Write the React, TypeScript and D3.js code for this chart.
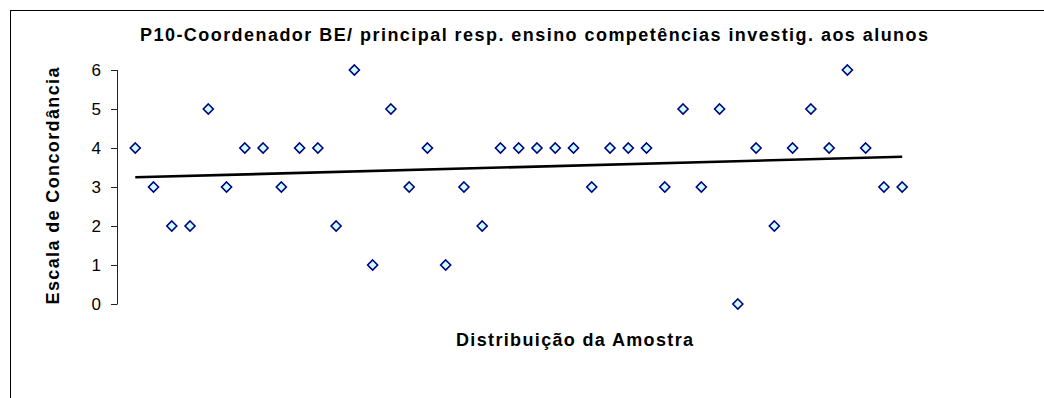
import React from 'react';
import * as d3 from 'd3';

// Respostas P10, pela ordem da amostra (1..43)
const sampleIds: number[] = d3.range(1, 44);
const responses: number[] = [
    4, 3, 2, 2, 5, 3, 4, 4, 3, 4,
    4, 2, 6, 1, 5, 3, 4, 1, 3, 2,
    4, 4, 4, 4, 4, 3, 4, 4, 4, 3,
    5, 3, 5, 0, 4, 2, 4, 5, 4, 6,
    4, 3, 3
];
const yTicks: number[] = [0, 1, 2, 3, 4, 5, 6];
const xDomain: number[] = [0, 50];

const titleText = 'P10-Coordenador BE/ principal resp. ensino competências investig. aos alunos';
const yLabel = 'Escala de Concordância';
const xLabel = 'Distribuição da Amostra';

const width = 1044;
const height = 398;
const font = '"Liberation Sans", Arial, sans-serif';

// least squares, same as Excel linear trendline
const linearFit = (xs: number[], ys: number[]) => {
    const mx = d3.mean(xs) as number;
    const my = d3.mean(ys) as number;
    const num = d3.sum(xs, (x, i) => (x - mx) * (ys[i] - my));
    const den = d3.sum(xs, x => (x - mx) * (x - mx));
    const slope = num / den;
    return { slope, intercept: my - slope * mx };
};

const App = () => {
    const x = d3.scaleLinear().domain(xDomain).range([117, 1030]);
    const y = d3.scaleLinear().domain([0, 6]).range([304, 70]);

    const fit = linearFit(sampleIds, responses);
    const xEnds = [sampleIds[0], sampleIds[sampleIds.length - 1]];
    const trend = d3.line<number>()
        .x(d => x(d))
        .y(d => y(fit.intercept + fit.slope * d))(xEnds) as string;

    const diamond = (cx: number, cy: number, r = 5) =>
        `M${cx},${cy - r}L${cx + r},${cy}L${cx},${cy + r}L${cx - r},${cy}Z`;

    return (
        <svg width={width} height={height} style={{ position: 'absolute', left: 0, top: 0, background: '#fff' }}
            fontFamily={font}>
            <rect x={10.5} y={10.5} width={1060} height={420} fill="#fff" stroke="#000" strokeWidth={1} />

            <text x={534} y={41} textAnchor="middle" fontSize={18} fontWeight="bold"
                textLength={788} lengthAdjust="spacing">{titleText}</text>

            {/* eixo Y */}
            <line x1={117.5} x2={117.5} y1={y(6)} y2={y(0)} stroke="#222" strokeWidth={1} />
            {yTicks.map(t => (
                <g key={t}>
                    <line x1={111} x2={117.5} y1={Math.round(y(t)) + 0.5} y2={Math.round(y(t)) + 0.5} stroke="#222" />
                    <text x={101} y={y(t) + 6} textAnchor="end" fontSize={17}>{t}</text>
                </g>
            ))}

            <text transform={`translate(59, 186) rotate(-90)`} textAnchor="middle" fontSize={18} fontWeight="bold"
                textLength={237} lengthAdjust="spacing">{yLabel}</text>
            <text x={574.5} y={346} textAnchor="middle" fontSize={18} fontWeight="bold"
                textLength={237} lengthAdjust="spacing">{xLabel}</text>

            {responses.map((v, i) => (
                <path key={i} d={diamond(x(sampleIds[i]), y(v))} fill="#ccffff" stroke="#000080" strokeWidth={1.6} />
            ))}

            <path d={trend} fill="none" stroke="#000" strokeWidth={2.6} />
        </svg>
    );
};

export default App;
